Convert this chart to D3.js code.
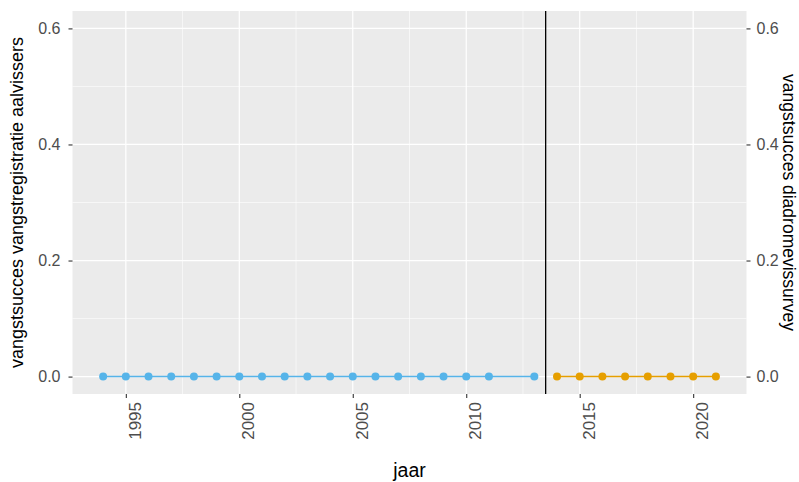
<!DOCTYPE html>
<html>
<head>
<meta charset="utf-8">
<script src="https://cdn.jsdelivr.net/npm/d3@7"></script>
<style>
  html, body { margin: 0; padding: 0; background: #fff; }
  svg { display: block; font-family: "Liberation Sans", Arial, sans-serif; }
</style>
</head>
<body>
<svg id="chart" width="799" height="482"></svg>
<script>
// ---- data ----
const registratieYears = [1994,1995,1996,1997,1998,1999,2000,2001,2002,2003,2004,2005,2006,2007,2008,2009,2010,2011,2013];
const registratieValues = [0,0,0,0,0,0,0,0,0,0,0,0,0,0,0,0,0,0,0];
const surveyYears = [2014,2015,2016,2017,2018,2019,2020,2021];
const surveyValues = [0,0,0,0,0,0,0,0];
const xTicks = [1995, 2000, 2005, 2010, 2015, 2020];
const xMinor = [1997.5, 2002.5, 2007.5, 2012.5, 2017.5];
const yTicks = [0, 0.2, 0.4, 0.6];
const yMinor = [0.1, 0.3, 0.5];
const breakYear = 2013.5;
const xTitle = "jaar";
const yLeftTitle = "vangstsucces vangstregistratie aalvissers";
const yRightTitle = "vangstsucces diadromevissurvey";

// ---- layout ----
const svg = d3.select("#chart");
const P = { left: 72.5, right: 746.5, top: 11, bottom: 394 };
const x = d3.scaleLinear().domain([1994 - 1.35, 2021 + 1.35]).range([P.left, P.right]);
const y = d3.scaleLinear().domain([-0.03, 0.63]).range([P.bottom, P.top]);

svg.append("rect").attr("x", P.left).attr("y", P.top)
  .attr("width", P.right - P.left).attr("height", P.bottom - P.top).attr("fill", "#EBEBEB");

const grid = svg.append("g");
grid.selectAll(".ymin").data(yMinor).join("line")
  .attr("x1", P.left).attr("x2", P.right).attr("y1", d => y(d)).attr("y2", d => y(d))
  .attr("stroke", "#fff").attr("stroke-width", 0.6);
grid.selectAll(".xmin").data(xMinor).join("line")
  .attr("y1", P.top).attr("y2", P.bottom).attr("x1", d => x(d)).attr("x2", d => x(d))
  .attr("stroke", "#fff").attr("stroke-width", 0.6);
grid.selectAll(".ymaj").data(yTicks).join("line")
  .attr("x1", P.left).attr("x2", P.right).attr("y1", d => y(d)).attr("y2", d => y(d))
  .attr("stroke", "#fff").attr("stroke-width", 1.2);
grid.selectAll(".xmaj").data(xTicks).join("line")
  .attr("y1", P.top).attr("y2", P.bottom).attr("x1", d => x(d)).attr("x2", d => x(d))
  .attr("stroke", "#fff").attr("stroke-width", 1.2);

// break line
svg.append("line").attr("x1", x(breakYear)).attr("x2", x(breakYear))
  .attr("y1", P.top).attr("y2", P.bottom).attr("stroke", "#000").attr("stroke-width", 1.3);

// series
function drawSeries(years, vals, color) {
  const pts = years.map((yr, i) => [yr, vals[i]]);
  svg.append("path").datum(pts)
    .attr("d", d3.line().x(d => x(d[0])).y(d => y(d[1])))
    .attr("fill", "none").attr("stroke", color).attr("stroke-width", 1.5);
  svg.append("g").selectAll("circle").data(pts).join("circle")
    .attr("cx", d => x(d[0])).attr("cy", d => y(d[1])).attr("r", 4).attr("fill", color);
}
drawSeries(registratieYears, registratieValues, "#56B4E9");
drawSeries(surveyYears, surveyValues, "#E69F00");

// axes
const tickColor = "#333333", labelColor = "#4D4D4D";
function styleAxis(g) {
  g.select(".domain").remove();
  g.selectAll(".tick line").attr("stroke", tickColor).attr("stroke-width", 1.1);
  g.selectAll(".tick text").attr("fill", labelColor).attr("font-family", "Liberation Sans, Arial, sans-serif");
}
const yl = svg.append("g").attr("transform", `translate(${P.left},0)`)
  .call(d3.axisLeft(y).tickValues(yTicks).tickFormat(d3.format(".1f")).tickSize(4).tickPadding(8));
styleAxis(yl); yl.selectAll(".tick text").attr("font-size", 16);

const yr = svg.append("g").attr("transform", `translate(${P.right},0)`)
  .call(d3.axisRight(y).tickValues(yTicks).tickFormat(d3.format(".1f")).tickSize(4).tickPadding(6));
styleAxis(yr); yr.selectAll(".tick text").attr("font-size", 16);

const xa = svg.append("g").attr("transform", `translate(0,${P.bottom})`)
  .call(d3.axisBottom(x).tickValues(xTicks).tickFormat(d3.format("d")).tickSize(4));
styleAxis(xa);
xa.selectAll(".tick text")
  .attr("font-size", 17)
  .attr("transform", "rotate(-90)")
  .attr("x", -8).attr("y", 0).attr("dy", "0.85em")
  .attr("text-anchor", "end");

// titles
svg.append("text").attr("x", (P.left + P.right) / 2).attr("y", 477)
  .attr("text-anchor", "middle").attr("font-size", 19.5).attr("fill", "#000").text(xTitle);
svg.append("text")
  .attr("transform", `translate(23,${(P.top + P.bottom) / 2}) rotate(-90)`)
  .attr("text-anchor", "middle").attr("font-size", 18).attr("fill", "#000").text(yLeftTitle);
svg.append("text")
  .attr("transform", `translate(783,${(P.top + P.bottom) / 2}) rotate(90)`)
  .attr("text-anchor", "middle").attr("font-size", 17.5).attr("fill", "#000").text(yRightTitle);
</script>
</body>
</html>
